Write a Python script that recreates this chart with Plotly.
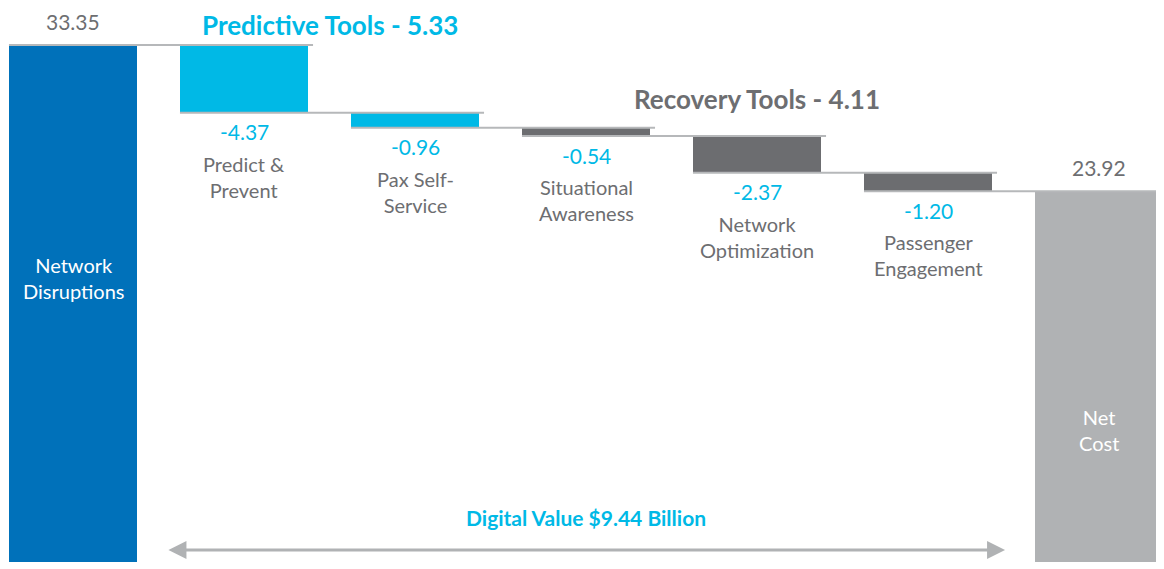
import plotly.graph_objects as go

# ---- data ----
categories = ["Network Disruptions", "Predict & Prevent", "Pax Self-Service",
              "Situational Awareness", "Network Optimization", "Passenger Engagement", "Net Cost"]
label_text = ["Network<br>Disruptions", "Predict &<br>Prevent", "Pax Self-<br>Service",
              "Situational<br>Awareness", "Network<br>Optimization", "Passenger<br>Engagement", "Net<br>Cost"]
values = [33.35, -4.37, -0.96, -0.54, -2.37, -1.20, 23.92]
kinds = ["total", "delta", "delta", "delta", "delta", "delta", "total"]
groups = ["start", "predictive", "predictive", "recovery", "recovery", "recovery", "end"]
group_titles = {"predictive": "Predictive Tools - 5.33", "recovery": "Recovery Tools - 4.11"}
digital_value_text = "Digital Value $9.44 Billion"

# ---- styles ----
FONT = "Lato"
BLUE = "#0071BA"
CYAN = "#00B9E6"
DARK = "#6C6D70"
LIGHT = "#B0B2B4"
TEXT_GRAY = "#6D6E71"
LINE = "#B6B8BA"
group_color = {"start": BLUE, "predictive": CYAN, "recovery": DARK, "end": LIGHT}

# page has an 8px body margin; figure is sized to the remaining viewport
W, H = 1156, 561
OFF = 8


def py(p):
    """reference pixel row -> paper y"""
    return 1 - (p - OFF) / H


BAR_W = 0.749
n = len(categories)
xs = list(range(n))

# compute bases and heights
bases, heights, levels = [], [], []
running = 0.0
for v, k in zip(values, kinds):
    if k == "total":
        bases.append(0.0)
        heights.append(v)
        running = v
    else:
        running = running + v
        bases.append(running)
        heights.append(-v)
    levels.append(running)

fig = go.Figure()
fig.add_trace(go.Bar(
    x=xs, y=heights, base=bases, width=BAR_W,
    marker=dict(color=[group_color[g] for g in groups], line=dict(width=0)),
    hovertext=categories, hoverinfo="text", showlegend=False,
))

shapes = []
pad = 5 / 171
for i in range(n - 1):
    shapes.append(dict(type="line", xref="x", yref="y",
                       x0=i - BAR_W / 2, x1=i + 1 + BAR_W / 2 + pad,
                       y0=levels[i], y1=levels[i],
                       line=dict(color=LINE, width=2), layer="above"))

ann = []
for i, (v, k) in enumerate(zip(values, kinds)):
    if k == "total":
        ann.append(dict(x=i, y=v, xref="x", yref="y", text=f"{v:.2f}", showarrow=False,
                        yanchor="middle", yshift=24,
                        font=dict(family=FONT, size=21, color=TEXT_GRAY)))
    else:
        ann.append(dict(x=i, y=bases[i], xref="x", yref="y", text=f"{v:.2f}", showarrow=False,
                        yanchor="middle", yshift=-19,
                        font=dict(family=FONT, size=21, color=CYAN)))
        ann.append(dict(x=i, y=bases[i], xref="x", yref="y", text=label_text[i], showarrow=False,
                        yanchor="top", yshift=-37,
                        font=dict(family=FONT, size=20, color=TEXT_GRAY)))

# labels inside total bars
ann.append(dict(x=0, y=py(278), xref="x", yref="paper", text=label_text[0], showarrow=False,
                yanchor="middle", font=dict(family=FONT, size=20, color="white")))
ann.append(dict(x=n - 1, y=py(430), xref="x", yref="paper", text=label_text[-1], showarrow=False,
                yanchor="middle", font=dict(family=FONT, size=20, color="white")))

# group titles
pred_idx = [i for i, g in enumerate(groups) if g == "predictive"]
rec_idx = [i for i, g in enumerate(groups) if g == "recovery"]
ann.append(dict(x=sum(pred_idx) / len(pred_idx), y=1, xref="x", yref="paper",
                text="<b>" + group_titles["predictive"] + "</b>", showarrow=False, yanchor="top",
                borderpad=0, font=dict(family=FONT, size=26, color=CYAN)))
ann.append(dict(x=sum(rec_idx) / len(rec_idx), y=py(99), xref="x", yref="paper",
                text="<b>" + group_titles["recovery"] + "</b>", showarrow=False, yanchor="middle",
                font=dict(family=FONT, size=26, color=TEXT_GRAY)))

delta_idx = [i for i, k in enumerate(kinds) if k == "delta"]
mid = sum(delta_idx) / len(delta_idx)
ann.append(dict(x=mid, y=py(517), xref="x", yref="paper",
                text="<b>" + digital_value_text + "</b>", showarrow=False, yanchor="middle",
                font=dict(family=FONT, size=21, color=CYAN)))

# double arrow
gap = 0.175
ann.append(dict(x=n - 1 - BAR_W / 2 - gap, y=py(550), xref="x", yref="paper",
                ax=BAR_W / 2 + gap, ay=0, axref="x", ayref="pixel",
                text="", showarrow=True, arrowside="end+start", arrowhead=2,
                arrowsize=1.2, arrowwidth=3, arrowcolor=LIGHT, standoff=0, startstandoff=0))

PX_PER_X = 171.0
PX_PER_Y = 15.5
x_left = -(73 - OFF) / PX_PER_X
x_right = (n - 1) + (1164 - 1099) / PX_PER_X
y_bottom = -(569 - 562) / PX_PER_Y
y_top = values[0] + (45 - OFF) / PX_PER_Y

fig.update_layout(
    width=W, height=H,
    margin=dict(l=0, r=0, t=0, b=0),
    paper_bgcolor="white", plot_bgcolor="white",
    xaxis=dict(range=[x_left, x_right], visible=False, fixedrange=True),
    yaxis=dict(range=[y_bottom, y_top], visible=False, fixedrange=True),
    shapes=shapes, annotations=ann, bargap=0,
    font=dict(family=FONT),
)

fig.write_html("out.html")
